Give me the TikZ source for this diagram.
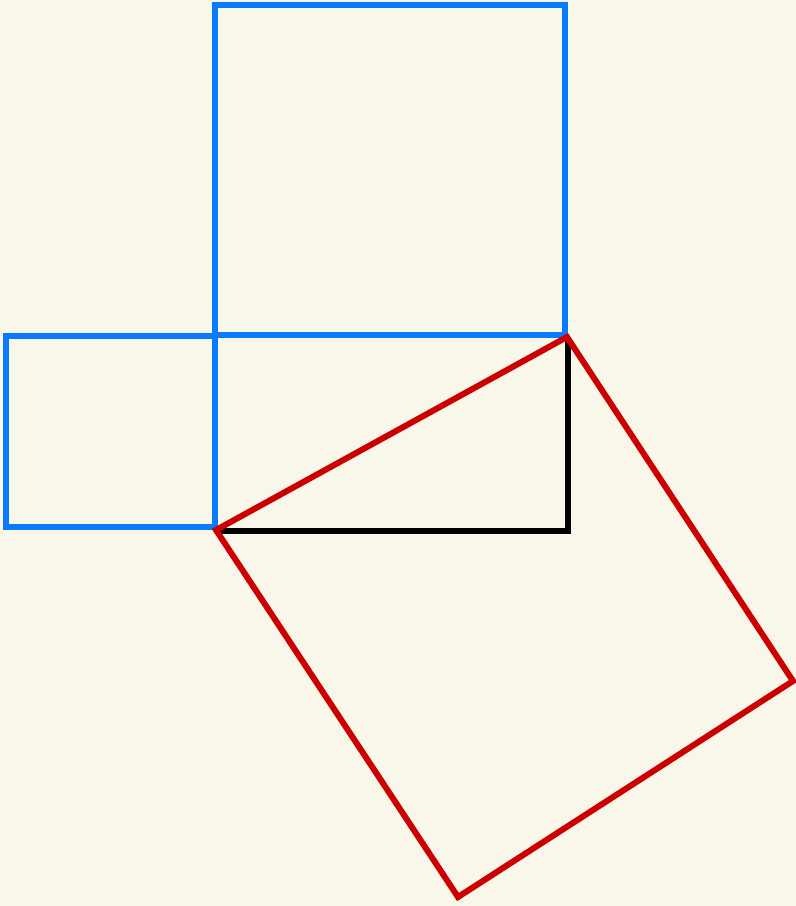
\documentclass[tikz,border=0pt]{standalone}
\definecolor{bg}{HTML}{F9F7EA}
\definecolor{sqblue}{RGB}{10,122,255}
\definecolor{sqred}{RGB}{204,0,0}
\begin{document}
\begin{tikzpicture}[x=1pt,y=-1pt,
  edge/.style={line width=6pt,line join=miter}]
\fill[bg] (0,0) rectangle (796,906);
\useasboundingbox (0,0) rectangle (796,906);
\coordinate (A) at (216,530);
\coordinate (C) at (568,531);
\coordinate (B) at (567,337);
% legs
\draw[edge,black] (216,531) -- (568,531) -- (568,337);
% squares on legs
\draw[edge,sqblue] (215,5) rectangle (565,335);
\draw[edge,sqblue] (6,336) rectangle (215,527);
% square on hypotenuse
\draw[edge,sqred] (A) -- (B) -- (793,681) -- (458,897) -- cycle;
\end{tikzpicture}
\end{document}
